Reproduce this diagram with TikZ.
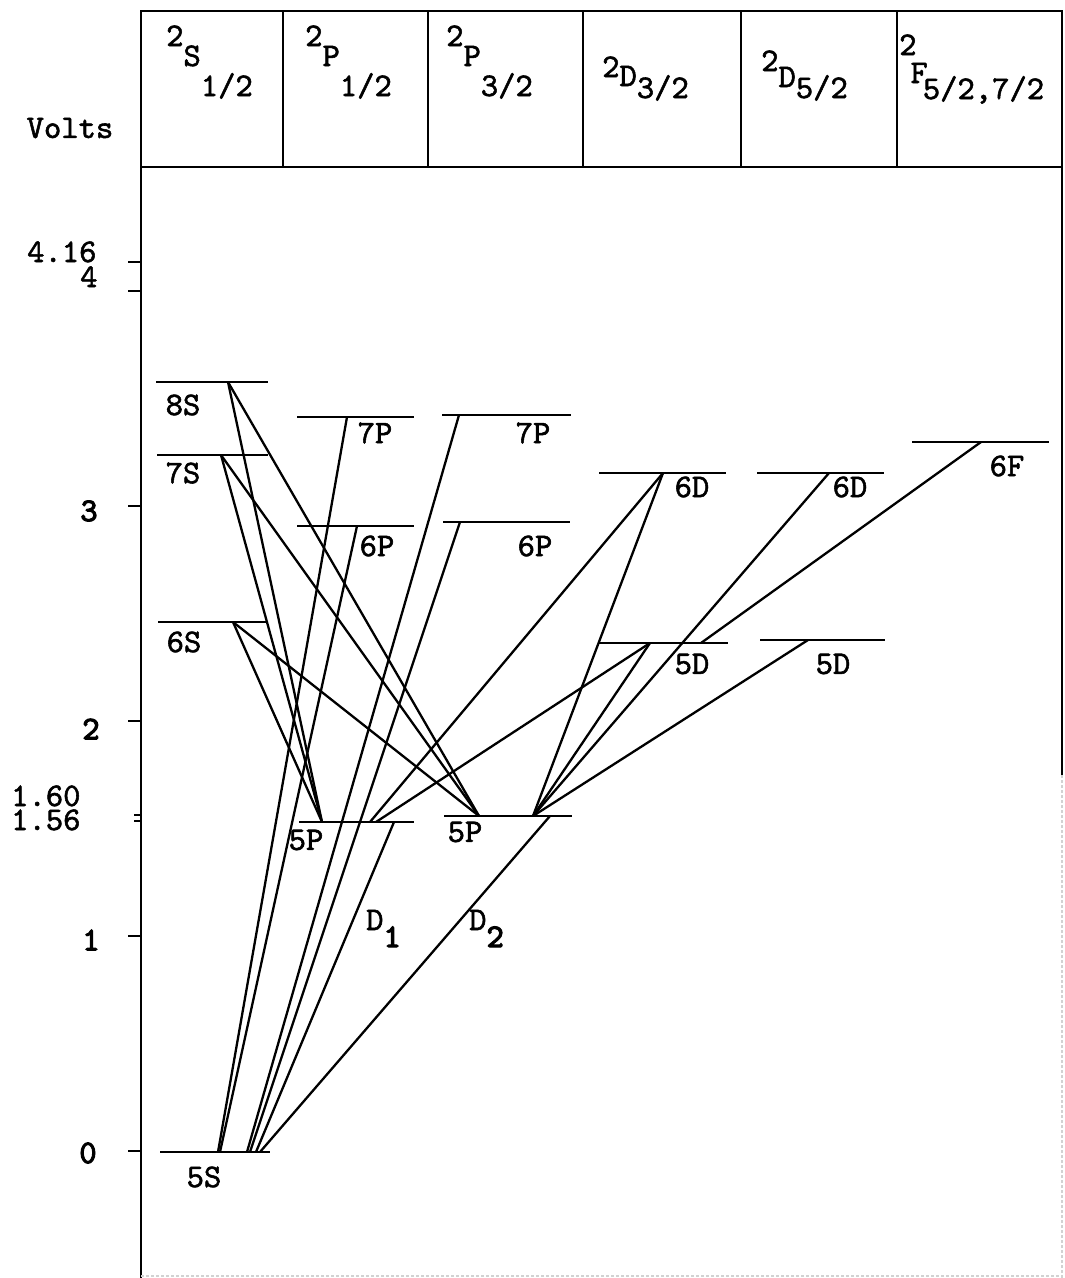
\documentclass[tikz,border=0pt]{standalone}
\usepackage{fontspec}
\newfontfamily\typew{lmmono10-regular.otf}[FakeBold=1.6]
\newfontfamily\typewb{lmmono10-regular.otf}[FakeBold=3.2]
\begin{document}
\begin{tikzpicture}[x=1pt,y=-1pt,
  every node/.style={font=\typew\fontsize{33}{36}\selectfont, inner sep=0pt},
  heavy/.style={font=\typewb\fontsize{33}{36}\selectfont},
  frame/.style={line width=2.6pt},
  faint/.style={line width=1.4pt, gray!35, dash pattern=on 3pt off 2pt},
  tick/.style={line width=1.8pt},
  level/.style={line width=2.3pt},
  trans/.style={line width=2.3pt}]
\useasboundingbox (0,0) rectangle (1065,1278);

% table frame and header
\draw[frame] (141,1278) -- (141,11) -- (1062,11) -- (1062,775);
\draw[frame] (141,167) -- (1062,167);
\foreach \x in {283,428,583,741,897} \draw[frame] (\x,11) -- (\x,167);
\draw[faint] (1062,775) -- (1062,1278);
\draw[faint] (141,1276) -- (1062,1276);

\node[anchor=base west] (hS)  at (166,96) {\raisebox{50pt}{2}\raisebox{30pt}{S}1/2};
\node[anchor=base west] (hP1) at (305,96) {\raisebox{50pt}{2}\raisebox{30pt}{P}1/2};
\node[anchor=base west] (hP3) at (446,96) {\raisebox{50pt}{2}\raisebox{30pt}{P}3/2};
\node[anchor=base west] (hD3) at (602,98) {\raisebox{21pt}{2}\raisebox{12pt}{D}3/2};
\node[anchor=base west] (hD5) at (761,98) {\raisebox{27pt}{2}\raisebox{11pt}{D}5/2};
\node[anchor=base west] (hF)  at (899,99) {\raisebox{44pt}{2}\hspace{-6pt}\raisebox{16pt}{F}\hspace{-5pt}5/2,7/2};
\node (volts) at (70,128) {Volts};

% energy axis
\foreach \y in {262,291,506,721,936,1151} \draw[tick] (128,\y) -- (141,\y);
\draw[tick] (134,815) -- (141,815);
\draw[tick] (134,821) -- (141,821);
\node[anchor=base west] (v416) at (27,262) {4.16};
\node[anchor=base west] (v4)   at (80,287) {4};
\node[heavy] (v3) at (89,511) {3};
\node[heavy] (v2) at (91,729) {2};
\node[heavy] (v1) at (91,940) {1};
\node[heavy] (v0) at (88,1153) {0};
\node[anchor=base west] (v160) at (11,806) {1.60};
\node[anchor=base west] (v156) at (11,830) {1.56};

% energy levels
\draw[level] (156,382) -- (268,382);
\draw[level] (157,455) -- (268,455);
\draw[level] (158,622) -- (268,622);
\draw[level] (160,1152) -- (270,1152);
\draw[level] (297,417) -- (414,417);
\draw[level] (297,526) -- (414,526);
\draw[level] (299,822) -- (414,822);
\draw[level] (442,415) -- (571,415);
\draw[level] (443,522) -- (570,522);
\draw[level] (444,816) -- (572,816);
\draw[level] (599,473) -- (726,473);
\draw[level] (599,643) -- (728,643);
\draw[level] (757,473) -- (884,473);
\draw[level] (760,640) -- (885,640);
\draw[level] (912,442) -- (1049,442);

% level names
\node (n8S) at (183,405) {8S};
\node (n7S) at (183,473) {7S};
\node (n6S) at (184,642) {6S};
\node (n5S) at (204,1177) {5S};
\node (n7Pa) at (375,433) {7P};
\node (n6Pa) at (377,546) {6P};
\node (n5Pa) at (306,840) {5P};
\node (n7Pb) at (533,433) {7P};
\node (n6Pb) at (535,546) {6P};
\node (n5Pb) at (465,832) {5P};
\node (n6Da) at (692,487) {6D};
\node (n5Da) at (692,664) {5D};
\node (n6Db) at (850,487) {6D};
\node (n5Db) at (833,664) {5D};
\node (n6F) at (1007,466) {6F};
\node[anchor=base west] (lD1) at (366,930) {D\raisebox{-17pt}{\typewb 1}};
\node[anchor=base west] (lD2) at (469,930) {D\raisebox{-17pt}{\typewb 2}};

% transition end points on the levels
\coordinate (s8) at (228,382);
\coordinate (s7) at (221,455);
\coordinate (s6) at (233,622);
\coordinate (g1) at (218,1152);
\coordinate (g2) at (220,1152);
\coordinate (g3) at (247,1152);
\coordinate (g4) at (250,1152);
\coordinate (g5) at (256,1152);
\coordinate (g6) at (260,1152);
\coordinate (p7a) at (347,417);
\coordinate (p6a) at (357,526);
\coordinate (p7b) at (459,415);
\coordinate (p6b) at (460,522);
\coordinate (p5aS) at (322,822);
\coordinate (p5aD) at (394,822);
\coordinate (p5aU1) at (370,822);
\coordinate (p5aU2) at (376,822);
\coordinate (p5bS) at (479,816);
\coordinate (p5bD) at (550,816);
\coordinate (p5bU) at (533,816);
\coordinate (d6a) at (663,473);
\coordinate (d5a) at (650,643);
\coordinate (d5aF) at (701,643);
\coordinate (d6b) at (829,473);
\coordinate (d5b) at (808,640);
\coordinate (f6) at (981,442);

% transitions
\draw[trans] (g1) -- (p7a);
\draw[trans] (g2) -- (p6a);
\draw[trans] (g3) -- (p7b);
\draw[trans] (g4) -- (p6b);
\draw[trans] (g5) -- (p5aD);
\draw[trans] (g6) -- (p5bD);
\draw[trans] (s8) -- (p5aS);
\draw[trans] (s8) -- (p5bS);
\draw[trans] (s7) -- (p5aS);
\draw[trans] (s7) -- (p5bS);
\draw[trans] (s6) -- (p5aS);
\draw[trans] (s6) -- (p5bS);
\draw[trans] (p5aU1) -- (d6a);
\draw[trans] (p5aU2) -- (d5a);
\draw[trans] (p5bU) -- (d6a);
\draw[trans] (p5bU) -- (d5a);
\draw[trans] (p5bU) -- (d6b);
\draw[trans] (p5bU) -- (d5b);
\draw[trans] (d5aF) -- (f6);
\end{tikzpicture}
\end{document}
